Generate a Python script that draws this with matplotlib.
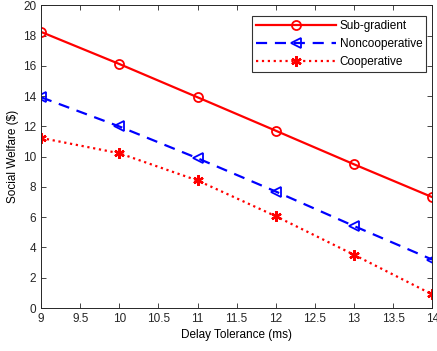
import matplotlib
matplotlib.use("Agg")
import matplotlib.pyplot as plt

plt.rcParams['font.family'] = ['Liberation Sans', 'DejaVu Sans']

delay = [9, 10, 11, 12, 13, 14]
subgradient = [18.25, 16.13, 13.93, 11.72, 9.5, 7.33]
noncooperative = [13.93, 12.0, 9.9, 7.7, 5.42, 3.2]
cooperative = [11.24, 10.23, 8.43, 6.07, 3.52, 0.9]
xticks = [9, 9.5, 10, 10.5, 11, 11.5, 12, 12.5, 13, 13.5, 14]
yticks = [0, 2, 4, 6, 8, 10, 12, 14, 16, 18, 20]

fig = plt.figure(figsize=(4.37, 3.51), dpi=100)
ax = fig.add_axes([0.094, 0.1225, 0.895, 0.862])

ax.plot(delay, subgradient, '-', color='red', lw=1.6, marker='o', ms=6.5,
        mfc='none', mew=1.3, label='Sub-gradient')
ax.plot(delay, noncooperative, '--', color='blue', lw=1.6, marker='<', ms=6.5,
        mfc='none', mew=1.3, dashes=(5, 3.5), label='Noncooperative')
ax.plot(delay, cooperative, ':', color='red', lw=1.6, marker=(6, 2, 0), ms=7.5,
        mew=1.7, label='Cooperative')

ax.set_xlim(9, 14)
ax.set_ylim(0, 20)
ax.set_xticks(xticks)
ax.set_xticklabels([f'{t:g}' for t in xticks])
ax.set_yticks(yticks)
ax.tick_params(direction='in', top=True, right=True, labelsize=8.5,
               colors='#262626', length=3.5, width=0.6)
for s in ax.spines.values():
    s.set_color('#262626')
    s.set_linewidth(0.7)
ax.set_xlabel('Delay Tolerance (ms)', fontsize=8.5, labelpad=3)
ax.set_ylabel('Social Welfare ($)', fontsize=8.5, labelpad=3)

leg = ax.legend(loc='upper right', fontsize=8.5, frameon=True, fancybox=False,
                edgecolor='black', handlelength=6.8, borderpad=0.35,
                labelspacing=0.5, handletextpad=0.3, borderaxespad=0,
                bbox_to_anchor=(0.985, 0.965))
leg.get_frame().set_linewidth(0.8)

fig.savefig('out.png', dpi=100)
